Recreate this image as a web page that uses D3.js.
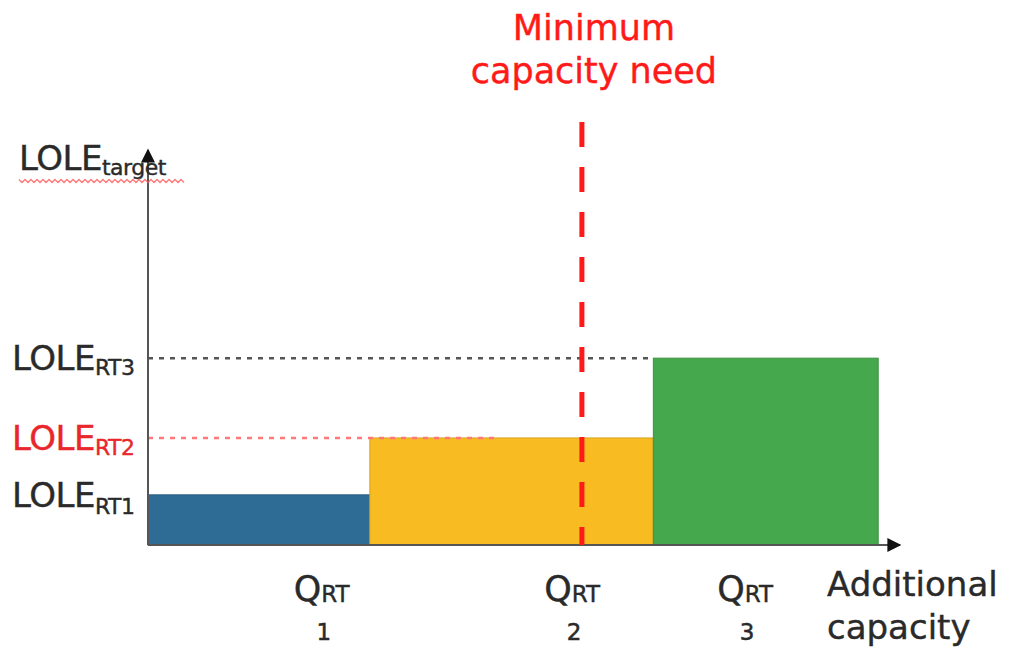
<!DOCTYPE html>
<html>
<head>
<meta charset="utf-8">
<script src="https://cdn.jsdelivr.net/npm/d3@7"></script>
<style>
  body { margin: 0; background: #fff; }
  svg text { font-family: "DejaVu Sans", Verdana, sans-serif; }
</style>
</head>
<body>
<svg id="chart"></svg>
<script>
// Data
const steps      = ["RT1", "RT2", "RT3"],
      qStart     = [0, 29.5, 67.2],      // additional capacity where each step starts
      qEnd       = [29.5, 67.2, 97.1],   // ... and where it ends
      lole       = [12.7, 27.1, 47.3],   // LOLE level per step
      qLabelAt   = [23.1, 56.4, 79.4],   // where the Q_RT labels sit
      qLabelNum  = ["1", "2", "3"],
      minNeed    = 57.7;                 // minimum capacity need

const width  = 1009,
      height = 648,
      colors = ["#2e6c96", "#f9bb22", "#46a84c"],
      red    = "#ff1a1a",
      grey   = "#555",
      ink    = "#2a2a2a";

const svg = d3.select("#chart").attr("width", width).attr("height", height);

const x = d3.scaleLinear().domain([0, 100]).range([148, 900]),
      y = d3.scaleLinear().domain([0, 100]).range([545, 150]);

// Bars
svg.selectAll("rect.step")
  .data(steps)
  .enter().append("rect")
  .attr("class", "step")
  .attr("x", (d, i) => x(qStart[i]))
  .attr("width", (d, i) => x(qEnd[i]) - x(qStart[i]))
  .attr("y", (d, i) => y(lole[i]))
  .attr("height", (d, i) => y(0) - y(lole[i]))
  .attr("fill", (d, i) => colors[i])
  .attr("stroke", (d, i) => d3.color(colors[i]).darker(0.4))
  .attr("stroke-width", 1);

// Dotted level guides
svg.append("line")
  .attr("x1", x(0)).attr("x2", x(qStart[2]))
  .attr("y1", y(lole[2])).attr("y2", y(lole[2]))
  .attr("stroke", "#555").attr("stroke-width", 2.5).attr("stroke-dasharray", "5,6");

svg.append("line")
  .attr("x1", x(0)).attr("x2", x(46.4))
  .attr("y1", y(lole[1])).attr("y2", y(lole[1]))
  .attr("stroke", "#f77").attr("stroke-width", 2.5).attr("stroke-dasharray", "5,6");

// Axes with arrow heads
svg.append("defs").append("marker")
  .attr("id", "arrow")
  .attr("viewBox", "0 0 10 10")
  .attr("refX", 9).attr("refY", 5)
  .attr("markerWidth", 15).attr("markerHeight", 14)
  .attr("markerUnits", "userSpaceOnUse")
  .attr("orient", "auto")
  .append("path").attr("d", "M0,0L10,5L0,10z").attr("fill", "#111");

svg.append("line")
  .attr("x1", x(0)).attr("x2", x(0))
  .attr("y1", y(0)).attr("y2", y(100))
  .attr("stroke", grey).attr("stroke-width", 2)
  .attr("marker-end", "url(#arrow)");

svg.append("line")
  .attr("x1", x(0)).attr("x2", x(100))
  .attr("y1", y(0)).attr("y2", y(0))
  .attr("stroke", grey).attr("stroke-width", 2)
  .attr("marker-end", "url(#arrow)");

// Minimum capacity need
svg.append("line")
  .attr("x1", x(minNeed)).attr("x2", x(minNeed))
  .attr("y1", 122).attr("y2", y(0))
  .attr("stroke", red).attr("stroke-width", 5).attr("stroke-dasharray", "25,20");

svg.append("text")
  .attr("x", x(minNeed) + 12).attr("y", 40)
  .attr("text-anchor", "middle").attr("fill", red).attr("font-size", 35)
  .attr("stroke", red).attr("stroke-width", 0.4)
  .text("Minimum");
svg.append("text")
  .attr("x", x(minNeed) + 12).attr("y", 83)
  .attr("text-anchor", "middle").attr("fill", red).attr("font-size", 35)
  .attr("stroke", red).attr("stroke-width", 0.4)
  .text("capacity need");

// y labels: LOLE with subscripts
function loleLabel(xpos, ypos, sub, subDy, fill) {
  let t = svg.append("text")
    .attr("x", xpos).attr("y", ypos)
    .attr("fill", fill).attr("stroke", fill).attr("stroke-width", 0.4)
    .attr("font-size", 34).attr("letter-spacing", -0.5);
  t.append("tspan").text("LOLE");
  t.append("tspan").attr("font-size", 22).attr("letter-spacing", -0.5).attr("dy", subDy).text(sub);
  return t;
}

loleLabel(12, y(lole[2]) + 12, "RT3", 5, ink);
loleLabel(12, y(lole[1]) + 12, "RT2", 5, "#e8262b");
loleLabel(12, y(lole[0]) + 12, "RT1", 7, ink);
loleLabel(19, 170, "target", 5, ink);

// spell-check squiggle under LOLE_target
let squiggle = d3.range(19, 186, 3).map((px, i) => [px, 181 + (i % 2 ? 1.5 : -1.5)]);
svg.append("path")
  .attr("d", d3.line()(squiggle))
  .attr("fill", "none").attr("stroke", "#f55").attr("stroke-width", 1.3).attr("opacity", 0.8);

// Q_RT labels
svg.selectAll("text.q")
  .data(qLabelAt)
  .enter().append("text")
  .attr("class", "q")
  .attr("x", d => x(d)).attr("y", 601)
  .attr("text-anchor", "middle").attr("fill", ink).attr("stroke", ink).attr("stroke-width", 0.4)
  .attr("font-size", 35)
  .call(t => {
    t.append("tspan").text("Q");
    t.append("tspan").attr("font-size", 23).attr("dy", 1).text("RT");
  });

svg.selectAll("text.qn")
  .data(qLabelAt)
  .enter().append("text")
  .attr("class", "qn")
  .attr("x", d => x(d) + 2).attr("y", 640)
  .attr("text-anchor", "middle").attr("fill", ink).attr("stroke", ink).attr("stroke-width", 0.5)
  .attr("font-size", 23)
  .text((d, i) => qLabelNum[i]);

// x axis title
svg.append("text")
  .attr("x", 827).attr("y", 596)
  .attr("fill", ink).attr("stroke", ink).attr("stroke-width", 0.4).attr("font-size", 34)
  .text("Additional");
svg.append("text")
  .attr("x", 827).attr("y", 639)
  .attr("fill", ink).attr("stroke", ink).attr("stroke-width", 0.4).attr("font-size", 34)
  .text("capacity");
</script>
</body>
</html>
